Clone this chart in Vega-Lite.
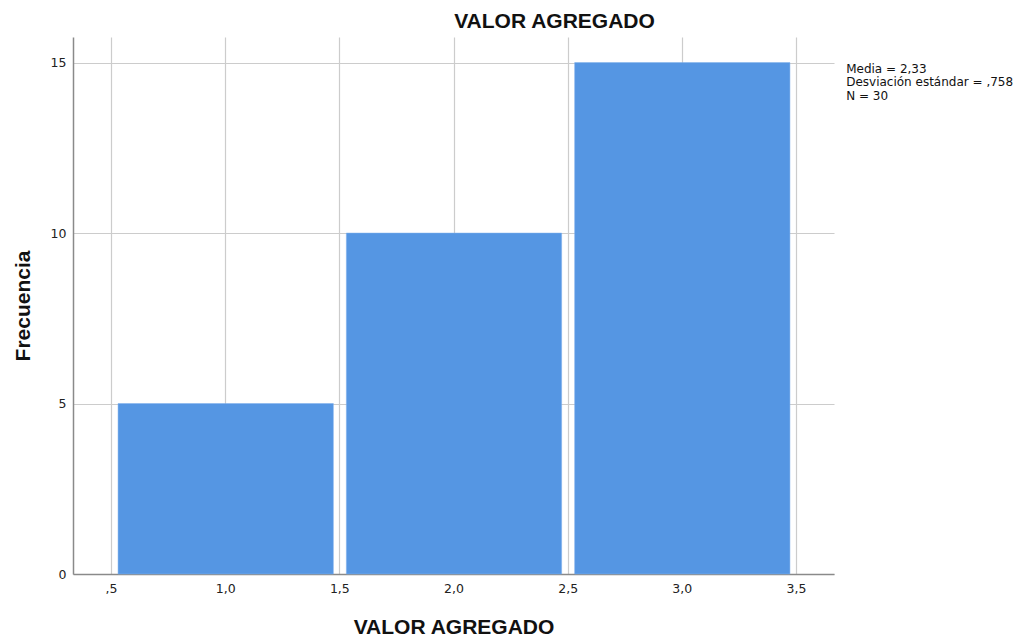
{
  "$schema": "https://vega.github.io/schema/vega-lite/v6.json",
  "width": 761,
  "height": 537,
  "autosize": {"type": "none"},
  "padding": {"left": 73, "top": 37, "right": 193, "bottom": 64},
  "background": "white",
  "config": {
    "view": {"stroke": null},
    "font": "Liberation Sans",
    "axis": {"labelFont": "DejaVu Sans", "titleFont": "Liberation Sans", "labelColor": "#222", "titleColor": "#111"}
  },
  "title": {
    "text": "VALOR AGREGADO",
    "fontSize": 21,
    "fontWeight": "bold",
    "font": "Liberation Sans",
    "color": "#111",
    "anchor": "middle",
    "dx": 101,
    "offset": 5
  },
  "layer": [
    {
      "data": {"values": [
        {"bin_start": 0.5, "bin_end": 1.5, "count": 5},
        {"bin_start": 1.5, "bin_end": 2.5, "count": 10},
        {"bin_start": 2.5, "bin_end": 3.5, "count": 15}
      ]},
      "mark": {"type": "bar", "orient": "vertical", "color": "#5596E3", "xOffset": 7, "x2Offset": -6, "stroke": "#7FB0EC", "strokeWidth": 0.5},
      "encoding": {
        "x": {
          "field": "bin_start", "type": "quantitative",
          "scale": {"domain": [0.3333, 3.6667], "nice": false, "zero": false, "padding": 0},
          "axis": {
            "values": [0.5, 1, 1.5, 2, 2.5, 3, 3.5],
            "labelExpr": "datum.value == 0.5 ? ',5' : replace(format(datum.value, '.1f'), '.', ',')",
            "title": "VALOR AGREGADO",
            "titleFontSize": 21, "titleFontWeight": "bold", "titlePadding": 22,
            "labelFontSize": 12.5, "labelPadding": 8, "ticks": false,
            "domainColor": "#8a8a8a", "domainWidth": 1.5,
            "grid": true, "gridColor": "#cccccc", "gridWidth": 1.2
          }
        },
        "x2": {"field": "bin_end"},
        "y": {
          "field": "count", "type": "quantitative",
          "scale": {"domain": [0, 15.75], "nice": false, "padding": 0},
          "axis": {
            "values": [0, 5, 10, 15],
            "title": "Frecuencia",
            "titleFontSize": 21, "titleFontWeight": "bold", "titlePadding": 17,
            "labelFontSize": 12.5, "labelPadding": 7, "ticks": false,
            "domainColor": "#8a8a8a", "domainWidth": 1.5,
            "grid": true, "gridColor": "#cccccc", "gridWidth": 1.2
          }
        },
        "y2": {"datum": 0}
      }
    },
    {
      "data": {"values": [{"label": "Media = 2,33\nDesviación estándar = ,758\nN = 30", "xpos": 3.72, "ypos": 15}]},
      "mark": {"type": "text", "align": "left", "baseline": "top", "lineBreak": "\n", "fontSize": 12, "lineHeight": 13.5, "dy": 1, "clip": false, "color": "#111", "font": "DejaVu Sans"},
      "encoding": {
        "x": {"field": "xpos", "type": "quantitative"},
        "y": {"field": "ypos", "type": "quantitative"},
        "text": {"field": "label"}
      }
    }
  ]
}
